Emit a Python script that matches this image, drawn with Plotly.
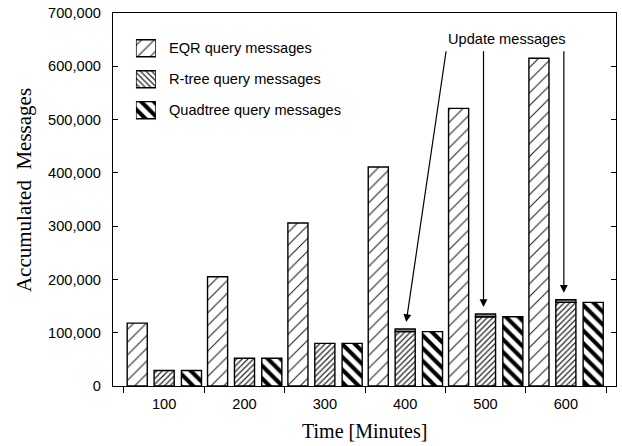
import plotly.graph_objects as go

# ---- data ----
minutes = ["100", "200", "300", "400", "500", "600"]
eqr_query = [118000, 205000, 306000, 411000, 521000, 615000]
rtree_query = [29000, 52000, 80000, 102000, 130000, 157000]
quadtree_query = [29000, 52000, 80000, 102000, 130000, 157000]
rtree_update = [None, None, None, 5000, 5000, 5000]
y_ticks = [0, 100000, 200000, 300000, 400000, 500000, 600000, 700000]
series_names = ["EQR query messages", "R-tree query messages", "Quadtree query messages"]
update_label = "Update messages"

SANS = "Liberation Sans, Arial, sans-serif"
SERIF = "Liberation Serif, Times New Roman, serif"
FS = 14.6

BAR_W = 0.25
OUTLINE = dict(color="black", width=1.4)

# hatch styles for the three series (bar fills)
hatch_eqr = dict(shape="/", size=9, solidity=0.12, fgcolor="#222", fgopacity=1, bgcolor="white")
hatch_rtree = dict(shape="/", size=4, solidity=0.3, fgcolor="#222", fgopacity=1, bgcolor="white")
hatch_quad = dict(shape="\\", size=9, solidity=0.45, fgcolor="black", fgopacity=1, bgcolor="white")

fig = go.Figure()

fig.add_trace(go.Bar(x=minutes, y=eqr_query, name=series_names[0],
                     offset=-0.335 - BAR_W / 2, width=BAR_W,
                     marker=dict(color="white", line=OUTLINE, pattern=hatch_eqr)))
fig.add_trace(go.Bar(x=minutes, y=rtree_query, name=series_names[1],
                     offset=-BAR_W / 2, width=BAR_W,
                     marker=dict(color="white", line=OUTLINE, pattern=hatch_rtree)))
fig.add_trace(go.Bar(x=minutes, y=rtree_update, base=rtree_query, name=update_label,
                     offset=-BAR_W / 2, width=BAR_W,
                     marker=dict(color="#8c8c8c", line=OUTLINE)))
fig.add_trace(go.Bar(x=minutes, y=quadtree_query, name=series_names[2],
                     offset=0.34 - BAR_W / 2, width=BAR_W,
                     marker=dict(color="white", line=OUTLINE, pattern=hatch_quad)))

# legend keys drawn as small bars on their own hidden axes
key_hatches = [
    hatch_eqr,
    dict(hatch_rtree, shape="\\"),
    hatch_quad,
]
for row, hatch in enumerate(key_hatches):
    fig.add_trace(go.Bar(x=[1], y=[row], orientation="h", width=0.55,
                         xaxis="x3", yaxis="y3", hoverinfo="skip",
                         marker=dict(color="white", line=OUTLINE, pattern=hatch)))

annotations = []
row_y = [0.9056, 0.8226, 0.7394]
for name, yy in zip(series_names, row_y):
    annotations.append(dict(text=name, xref="paper", yref="paper", x=0.107, y=yy,
                            xanchor="left", yanchor="middle", showarrow=False,
                            font=dict(family=SANS, size=FS, color="black")))

annotations.append(dict(text=update_label, xref="paper", yref="paper", x=0.7837, y=0.931,
                        xanchor="center", yanchor="middle", showarrow=False,
                        font=dict(family=SANS, size=FS, color="black")))

# arrows from the label to the update caps on the R-tree bars
tail_y = 631000
arrow_x = [(3.0, 3.512), (3.975, 3.975), (4.975, 4.975)]
for i, (tip_x, tail_x) in zip([3, 4, 5], arrow_x):
    total = rtree_query[i] + (rtree_update[i] or 0)
    annotations.append(dict(x=tip_x, y=total, xref="x", yref="y",
                            ax=tail_x, ay=tail_y, axref="x", ayref="y",
                            showarrow=True, arrowhead=2, arrowsize=1.3, arrowwidth=1.2,
                            arrowcolor="black", standoff=7, text=""))

annotations.append(dict(text="Time [Minutes]", xref="paper", yref="paper", x=0.5, y=-0.12,
                        xanchor="center", yanchor="middle", showarrow=False,
                        font=dict(family=SERIF, size=20, color="black")))
annotations.append(dict(text="Accumulated  Messages", xref="paper", yref="paper",
                        x=-0.178, y=0.5266, textangle=-90,
                        xanchor="center", yanchor="middle", showarrow=False,
                        font=dict(family=SERIF, size=21, color="black")))

x_range = [-0.6366, 5.624]
boundaries = [k - 0.5 for k in range(7)]

fig.update_layout(
    width=622, height=446,
    margin=dict(l=113, r=5, t=10, b=60),
    paper_bgcolor="white", plot_bgcolor="white",
    barmode="overlay", showlegend=False,
    font=dict(family=SANS, size=FS, color="black"),
    xaxis=dict(type="category", categoryorder="array", categoryarray=minutes,
               range=x_range, tickson="boundaries", ticks="outside", ticklen=6,
               tickwidth=1.2, tickcolor="black", showline=True, linecolor="black",
               linewidth=1.4, mirror=True, showgrid=False, zeroline=False,
               tickfont=dict(family=SANS, size=FS, color="black"), ticklabelstandoff=4),
    xaxis2=dict(overlaying="x", side="top", anchor="y", type="linear", range=x_range,
                tickmode="array", tickvals=boundaries, ticks="inside", ticklen=6,
                tickwidth=1.2, tickcolor="black", showticklabels=False,
                showline=False, showgrid=False, zeroline=False),
    yaxis=dict(range=[0, 700000], tickmode="array", tickvals=y_ticks, tickformat=",d",
               ticks="inside", ticklen=5, tickwidth=1.2, tickcolor="black",
               showline=True, linecolor="black", linewidth=1.4, mirror="ticks",
               showgrid=False, zeroline=False,
               tickfont=dict(family=SANS, size=FS, color="black"), ticklabelstandoff=8),
    xaxis3=dict(domain=[0.0456, 0.0853], range=[0, 1], visible=False, anchor="y3",
                fixedrange=True),
    yaxis3=dict(domain=[0.698, 0.947], range=[2.5, -0.5], visible=False, anchor="x3",
                fixedrange=True),
    annotations=annotations,
)

fig.write_html("out.html")
